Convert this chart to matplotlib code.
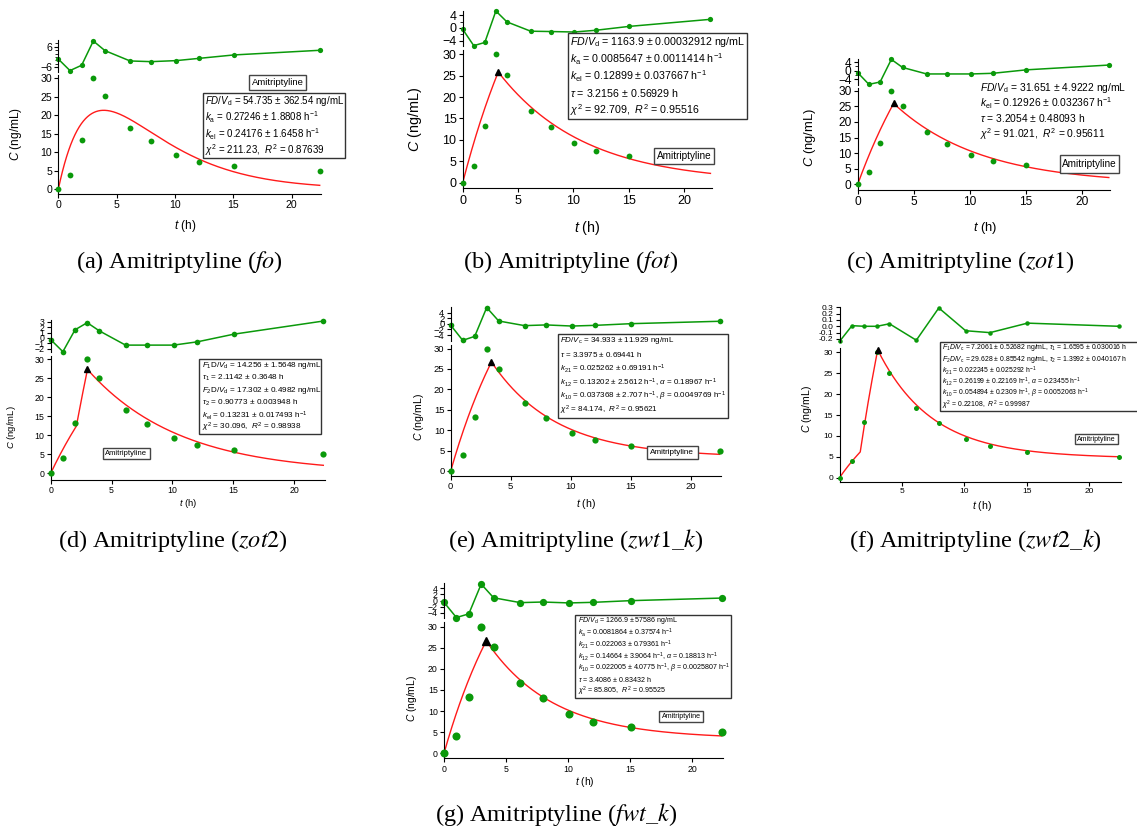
import numpy as np
import matplotlib.pyplot as plt
from matplotlib.patches import Rectangle
from matplotlib.ticker import FixedLocator, FormatStrFormatter

plt.rcParams['font.family'] = 'Liberation Sans'
plt.rcParams['mathtext.fontset'] = 'custom'
plt.rcParams['mathtext.rm'] = 'Liberation Sans'
plt.rcParams['mathtext.it'] = 'Liberation Sans:italic'
plt.rcParams['mathtext.bf'] = 'Liberation Sans:bold'

W, H = 1137, 832
GREEN = '#0a990a'
RED = '#ff1a1a'

# sampling times (h) and measured amitriptyline concentrations (ng/mL)
t_obs = np.array([0, 1, 2, 3, 4, 6.15, 7.95, 10.1, 12.05, 15.05, 22.4])
c_obs = np.array([0, 4.0, 13.3, 30.0, 25.1, 16.7, 13.0, 9.3, 7.5, 6.2, 5.0])

# residuals of each model fit
res_fo = [-1.2, -7.9, -4.8, 9.3, 3.7, -2.3, -2.7, -2.1, -0.8, 1.2, 3.9]
res_fot = [-0.4, -5.5, -4.5, 5.3, 1.9, -1.0, -1.1, -1.25, -0.7, 0.5, 2.7]
res_zot1 = [-0.9, -6.3, -5.2, 5.2, 1.5, -1.5, -1.5, -1.5, -1.2, 0.4, 2.6]
res_zot2 = [-0.3, -2.5, 1.5, 2.8, 1.3, -1.3, -1.3, -1.3, -0.7, 0.7, 3.1]
res_zwt1 = [-0.5, -5.9, -4.5, 5.8, 1.0, -0.65, -0.4, -0.8, -0.55, 0.05, 0.9]
res_zwt2 = [-0.24, 0.01, 0.0, 0.0, 0.04, -0.22, 0.29, -0.07, -0.10, 0.05, 0.0]
res_fwt = [-0.6, -5.6, -4.4, 5.4, 0.9, -0.7, -0.5, -0.8, -0.6, -0.05, 0.8]

# fitted parameters
fo_p = dict(FDV=54.735, ka=0.27246, kel=0.24176)
fot_p = dict(FDV=1163.9, ka=0.0085647, kel=0.12899, tau=3.2156)
zot1_p = dict(FDV=31.651, kel=0.12926, tau=3.2054)
zot2_p = dict(F1DV=14.256, tau1=2.1142, F2DV=17.302, tau2=0.90773, kel=0.13231)
zwt1_p = dict(FDV=34.933, tau=3.3975, k21=0.025262, alpha=0.18967, beta=0.0049769)
# k21 here is the value that reproduces the plotted zwt2 curve (the listed
# k12/k21/k10 do not add up to alpha + beta)
zwt2_p = dict(F1DV=7.2061, tau1=1.6595, F2DV=29.628, tau2=1.3992,
              k21=0.038, alpha=0.23455, beta=0.0052063)
fwt_p = dict(FDV=1266.9, ka=0.0081864, k21=0.022063, alpha=0.18813,
             beta=0.0025807, tau=3.4086)

fo_txt = [r'$FD/V_\mathrm{d}$ = 54.735 ± 362.54 ng/mL',
          r'$k_\mathrm{a}$ = 0.27246 ± 1.8808 h$^{-1}$',
          r'$k_\mathrm{el}$ = 0.24176 ± 1.6458 h$^{-1}$',
          r'$\chi^2$ = 211.23,  $R^2$ = 0.87639']
fot_txt = [r'$FD/V_\mathrm{d}$ = 1163.9 ± 0.00032912 ng/mL',
           r'$k_\mathrm{a}$ = 0.0085647 ± 0.0011414 h$^{-1}$',
           r'$k_\mathrm{el}$ = 0.12899 ± 0.037667 h$^{-1}$',
           r'$\tau$ = 3.2156 ± 0.56929 h',
           r'$\chi^2$ = 92.709,  $R^2$ = 0.95516']
zot1_txt = [r'$FD/V_\mathrm{d}$ = 31.651 ± 4.9222 ng/mL',
            r'$k_\mathrm{el}$ = 0.12926 ± 0.032367 h$^{-1}$',
            r'$\tau$ = 3.2054 ± 0.48093 h',
            r'$\chi^2$ = 91.021,  $R^2$ = 0.95611']
zot2_txt = [r'$F_1$D/$V_\mathrm{d}$ = 14.256 ± 1.5648 ng/mL',
            r'$\tau_1$ = 2.1142 ± 0.3648 h',
            r'$F_2$D/$V_\mathrm{d}$ = 17.302 ± 0.4982 ng/mL',
            r'$\tau_2$ = 0.90773 ± 0.003948 h',
            r'$k_\mathrm{el}$ = 0.13231 ± 0.017493 h$^{-1}$',
            r'$\chi^2$ = 30.096,  $R^2$ = 0.98938']
zwt1_txt = [r'$FD/V_\mathrm{c}$ = 34.933 ± 11.929 ng/mL',
            r'$\tau$ = 3.3975 ± 0.69441 h',
            r'$k_{21}$ = 0.025262 ± 0.69191 h$^{-1}$',
            r'$k_{12}$ = 0.13202 ± 2.5612 h$^{-1}$, $\alpha$ = 0.18967 h$^{-1}$',
            r'$k_{10}$ = 0.037368 ± 2.707 h$^{-1}$, $\beta$ = 0.0049769 h$^{-1}$',
            r'$\chi^2$ = 84.174,  $R^2$ = 0.95621']
zwt2_txt = [r'$F_1D/V_\mathrm{c}$ = 7.2061 ± 0.52682 ng/mL, $\tau_1$ = 1.6595 ± 0.030016 h',
            r'$F_2D/V_\mathrm{c}$ = 29.628 ± 0.85542 ng/mL, $\tau_2$ = 1.3992 ± 0.040167 h',
            r'$k_{21}$ = 0.022245 ± 0.025292 h$^{-1}$',
            r'$k_{12}$ = 0.26199 ± 0.22169 h$^{-1}$, $\alpha$ = 0.23455 h$^{-1}$',
            r'$k_{10}$ = 0.054894 ± 0.2309 h$^{-1}$, $\beta$ = 0.0052063 h$^{-1}$',
            r'$\chi^2$ = 0.22108,  $R^2$ = 0.99987']
fwt_txt = [r'$FD/V_\mathrm{d}$ = 1266.9 ± 57586 ng/mL',
           r'$k_\mathrm{a}$ = 0.0081864 ± 0.37574 h$^{-1}$',
           r'$k_{21}$ = 0.022063 ± 0.79361 h$^{-1}$',
           r'$k_{12}$ = 0.14664 ± 3.9064 h$^{-1}$, $\alpha$ = 0.18813 h$^{-1}$',
           r'$k_{10}$ = 0.022005 ± 4.0775 h$^{-1}$, $\beta$ = 0.0025807 h$^{-1}$',
           r'$\tau$ = 3.4086 ± 0.83432 h',
           r'$\chi^2$ = 85.805,  $R^2$ = 0.95525']


# --- disposition models -------------------------------------------------
def two_comp(k21, alpha, beta):
    a = (alpha - k21) / (alpha - beta)
    b = (k21 - beta) / (alpha - beta)
    return [a, b], [alpha, beta]


def g_inf(u, amps, rates):
    u = np.clip(u, 0, None)
    return sum(a * (1 - np.exp(-r * u)) / r for a, r in zip(amps, rates))


def zero_order(t, doses, taus, amps, rates):
    c = np.zeros_like(t)
    start = 0.0
    for d, tau in zip(doses, taus):
        c += d / tau * (g_inf(t - start, amps, rates) - g_inf(t - start - tau, amps, rates))
        start += tau
    return c


def first_order(t, dose, ka, tau, amps, rates):
    m = np.minimum(t, tau)
    return dose * ka * sum(a * np.exp(-r * t) * (np.exp((r - ka) * m) - 1) / (r - ka)
                           for a, r in zip(amps, rates))


def grid(*brk):
    return np.union1d(np.linspace(0, t_obs[-1], 500), [b for b in brk if b])


fo_fit = lambda t: first_order(t, fo_p['FDV'], fo_p['ka'], np.inf, [1.0], [fo_p['kel']])
fot_fit = lambda t: first_order(t, fot_p['FDV'], fot_p['ka'], fot_p['tau'], [1.0], [fot_p['kel']])
zot1_fit = lambda t: zero_order(t, [zot1_p['FDV']], [zot1_p['tau']], [1.0], [zot1_p['kel']])
zot2_fit = lambda t: zero_order(t, [zot2_p['F1DV'], zot2_p['F2DV']],
                                [zot2_p['tau1'], zot2_p['tau2']], [1.0], [zot2_p['kel']])
zwt1_fit = lambda t: zero_order(t, [zwt1_p['FDV']], [zwt1_p['tau']],
                                *two_comp(zwt1_p['k21'], zwt1_p['alpha'], zwt1_p['beta']))
zwt2_fit = lambda t: zero_order(t, [zwt2_p['F1DV'], zwt2_p['F2DV']],
                                [zwt2_p['tau1'], zwt2_p['tau2']],
                                *two_comp(zwt2_p['k21'], zwt2_p['alpha'], zwt2_p['beta']))
fwt_fit = lambda t: first_order(t, fwt_p['FDV'], fwt_p['ka'], fwt_p['tau'],
                                *two_comp(fwt_p['k21'], fwt_p['alpha'], fwt_p['beta']))

fig = plt.figure(figsize=(W / 100, H / 100), dpi=100)


def fx(px):
    return px / W


def fy(py):
    return 1 - py / H


def draw(fit, peak, res, txt, caption, lay):
    x0, xs, y0, ys, ybot = lay['x0'], lay['xs'], lay['y0'], lay['ys'], lay['ybot']
    xr = x0 + 22.5 * xs
    ax = fig.add_axes([fx(x0), fy(y0 - ybot * ys), fx(xr - x0), (31 - ybot) * ys / H])
    r0, rs, rlo, rhi = lay['r0'], lay['rs'], *lay['rlim']
    axr = fig.add_axes([fx(x0), fy(r0 - rlo * rs), fx(xr - x0), (rhi - rlo) * rs / H])
    fs, ms = lay['fs'], lay['ms']

    tg = grid(peak)
    ax.plot(tg, fit(tg), color=RED, lw=1.0, zorder=2)
    if peak:
        ax.plot([peak], fit(np.array([peak])), marker='^', color='black',
                ms=lay['tri'], ls='none', zorder=4, clip_on=False)
    ax.plot(t_obs, c_obs, 'o', color=GREEN, ms=ms, mec='none', zorder=3, clip_on=False)
    ax.set_xlim(0, 22.5)
    ax.set_ylim(ybot, 31)
    ax.set_yticks(range(0, 31, 5))
    ax.set_xticks(lay.get('xt', [0, 5, 10, 15, 20]))

    axr.plot(t_obs, res, '-o', color=GREEN, lw=1.1, ms=ms * 0.9, mec='none', clip_on=False)
    axr.set_xlim(0, 22.5)
    axr.set_ylim(rlo, rhi)
    axr.yaxis.set_major_locator(FixedLocator(lay['rt']))
    if 'rminor' in lay:
        axr.yaxis.set_minor_locator(FixedLocator(lay['rminor']))
    if 'rfmt' in lay:
        axr.yaxis.set_major_formatter(FormatStrFormatter(lay['rfmt']))
    axr.set_xticks([])

    for a in (ax, axr):
        a.patch.set_alpha(0)
        a.spines[['top', 'right']].set_visible(False)
        a.tick_params(direction='out', length=3, width=0.8, labelsize=fs, pad=1.5)
        a.tick_params(which='minor', direction='out', length=2, width=0.6)
        for s in a.spines.values():
            s.set_linewidth(0.8)
    axr.spines['bottom'].set_visible(False)

    lf = lay['lf']
    fig.text(fx(lay['yl'][0]), fy(lay['yl'][1]), '$C$ (ng/mL)', rotation=90,
             ha='center', va='center', fontsize=lf)
    fig.text(fx(lay['xl'][0]), fy(lay['xl'][1]), '$t$ (h)', ha='center', va='center', fontsize=lf)

    # parameter box
    bx, by, bw, bh = lay['box']
    if lay.get('frame', True):
        fig.patches.append(Rectangle((fx(bx), fy(by + bh)), bw / W, bh / H, transform=fig.transFigure,
                                     fc='white', ec='#333333', lw=1.0, zorder=5))
    n = len(txt)
    for i, line in enumerate(txt):
        fig.text(fx(bx + 2.5), fy(by + (i + 0.5) * bh / n), line, ha='left', va='center',
                 fontsize=lay['bf'], zorder=6)

    # compound tag
    cx, cy, cw, ch = lay['tag']
    fig.patches.append(Rectangle((fx(cx - cw / 2), fy(cy + ch / 2)), cw / W, ch / H,
                                 transform=fig.transFigure, fc='white', ec='#444444',
                                 lw=1.0, zorder=5))
    fig.text(fx(cx), fy(cy), 'Amitriptyline', ha='center', va='center',
             fontsize=lay['tf'], zorder=6)

    fig.text(fx(lay['cap'][0]), fy(lay['cap'][1]), caption, ha='center', va='center',
             fontsize=17.5, family='Liberation Serif', math_fontfamily='stix')


draw(fo_fit, None, res_fo, fo_txt, r'(a) Amitriptyline ($fo$)',
     dict(x0=58.3, xs=11.67, y0=189.3, ys=3.7, ybot=-1.3, r0=57, rs=1.72, rlim=(-8.5, 10),
          rt=[-6, 6], rminor=[-4, -2, 0, 2, 4, 8], fs=7.6, lf=8.6, ms=4.2, tri=4,
          yl=(16, 134), xl=(185, 226), box=(202.7, 92.7, 142.3, 65.6), bf=7.0,
          tag=(277.5, 82.5, 57, 15), tf=6.8, cap=(179, 262)))
draw(fot_fit, fot_p['tau'], res_fot, fot_txt, r'(b) Amitriptyline ($fot$)',
     dict(x0=462.7, xs=11.06, y0=182.7, ys=4.28, ybot=-1.3, r0=28, rs=3.21, rlim=(-5.6, 5.4),
          rt=[-4, 0, 4], rminor=[-2, 2], fs=9, lf=10.4, ms=4.2, tri=4,
          yl=(415, 119.5), xl=(587, 227.7), box=(567.7, 33, 179, 86), bf=7.7,
          tag=(684, 156, 60, 16), tf=7.2, cap=(571, 262)))
draw(zot1_fit, zot1_p['tau'], res_zot1, zot1_txt, r'(c) Amitriptyline ($zot1$)',
     dict(x0=857.7, xs=11.21, y0=184.3, ys=3.12, ybot=-1.8, r0=70.7, rs=2.17, rlim=(-6.4, 5.4),
          rt=[-4, 0, 4], rminor=[-2, 2], fs=8.6, lf=9.4, ms=4.2, tri=4,
          yl=(810, 137.5), xl=(985, 228), box=(978, 80, 150, 61.6), bf=7.4, frame=False,
          tag=(1089.5, 164, 59, 18), tf=7.2, cap=(960, 262)))
draw(zot2_fit, zot2_p['tau1'] + zot2_p['tau2'], res_zot2, zot2_txt, r'(d) Amitriptyline ($zot2$)',
     dict(x0=50.7, xs=12.17, y0=473.3, ys=3.8, ybot=-1.76, r0=338, rs=5.47, rlim=(-2.6, 3.2),
          rt=[-2, -1, 0, 1, 2, 3], fs=6.3, lf=6.8, ms=4.5, tri=4.5,
          yl=(11.7, 426.7), xl=(188, 504), box=(199, 359.3, 122, 74.7), bf=5.9,
          tag=(126.3, 453.7, 47, 11.3), tf=5.5, cap=(173, 541)))
draw(zwt1_fit, zwt1_p['tau'], res_zwt1, zwt1_txt, r'(e) Amitriptyline ($zwt1\_k$)',
     dict(x0=450.7, xs=12.0, y0=471, ys=4.08, ybot=-1.15, r0=323.8, rs=2.8, rlim=(-6.0, 6.0),
          rt=[-4, -2, 0, 2, 4], fs=6.8, lf=7.6, ms=4.5, tri=4.5,
          yl=(419, 416.7), xl=(585.8, 504), box=(558, 334, 170, 83.7), bf=5.75,
          tag=(672.3, 452.3, 51, 13.3), tf=5.9, cap=(576, 541)))
draw(zwt2_fit, zwt2_p['tau1'] + zwt2_p['tau2'], res_zwt2, zwt2_txt, r'(f) Amitriptyline ($zwt2\_k$)',
     dict(x0=839.5, xs=12.49, y0=477.7, ys=4.18, ybot=-0.96, r0=326.3, rs=63.3, rlim=(-0.25, 0.31),
          rt=[-0.2, -0.1, 0.0, 0.1, 0.2, 0.3], rfmt='%.1f', xt=[5, 10, 15, 20],
          fs=6.0, lf=7.6, ms=3.6, tri=4.5,
          yl=(807.3, 409), xl=(981.7, 506), box=(940, 341.7, 199, 69.3), bf=4.95,
          tag=(1096.3, 439.2, 42.7, 10.3), tf=5.0, cap=(975, 541)))
draw(fwt_fit, fwt_p['tau'], res_fwt, fwt_txt, r'(g) Amitriptyline ($fwt\_k$)',
     dict(x0=444, xs=12.4, y0=753.3, ys=4.22, ybot=-1.2, r0=600.5, rs=3.04, rlim=(-5.7, 5.6),
          rt=[-4, -2, 0, 2, 4], fs=6.3, lf=7.4, ms=5.8, tri=5.5,
          yl=(412.3, 698.8), xl=(585, 782.3), box=(575, 615, 155.7, 82.7), bf=5.15,
          tag=(681.2, 716.7, 44.3, 11.3), tf=5.1, cap=(556, 815)))

fig.savefig('out.png', dpi=100)
